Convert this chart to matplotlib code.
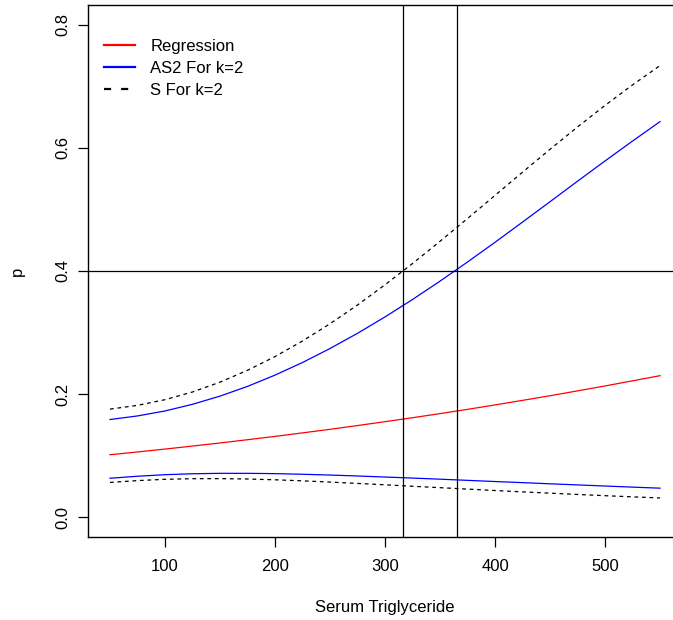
import matplotlib
matplotlib.use("Agg")
import matplotlib.pyplot as plt
import matplotlib.lines as mlines

# values
trig = [50, 75, 100, 125, 150, 175, 200, 225, 250, 275, 300,
        325, 350, 375, 400, 425, 450, 475, 500, 525, 550]
p_reg = [0.1016, 0.1061, 0.1108, 0.1157, 0.1207, 0.1260, 0.1314, 0.1371, 0.1429, 0.1490, 0.1553,
         0.1617, 0.1684, 0.1753, 0.1825, 0.1899, 0.1974, 0.2053, 0.2133, 0.2216, 0.2300]
as2_up = [0.1588, 0.1646, 0.1727, 0.1835, 0.1968, 0.2126, 0.2309, 0.2514, 0.2741, 0.2988, 0.3254,
          0.3537, 0.3835, 0.4146, 0.4466, 0.4794, 0.5125, 0.5458, 0.5787, 0.6110, 0.6426]
as2_lo = [0.0634, 0.0667, 0.0692, 0.0707, 0.0714, 0.0714, 0.0709, 0.0699, 0.0686, 0.0671, 0.0654,
          0.0637, 0.0619, 0.0600, 0.0581, 0.0563, 0.0544, 0.0526, 0.0508, 0.0490, 0.0473]
s_up = [0.1757, 0.1818, 0.1910, 0.2035, 0.2195, 0.2387, 0.2610, 0.2863, 0.3143, 0.3448, 0.3776,
        0.4121, 0.4482, 0.4852, 0.5228, 0.5604, 0.5976, 0.6339, 0.6689, 0.7022, 0.7336]
s_lo = [0.0566, 0.0596, 0.0617, 0.0627, 0.0628, 0.0622, 0.0609, 0.0592, 0.0572, 0.0550, 0.0528,
        0.0504, 0.0481, 0.0458, 0.0435, 0.0413, 0.0392, 0.0371, 0.0351, 0.0332, 0.0314]
p_cut = 0.4
x_cuts = [316, 365]
xticks = [100, 200, 300, 400, 500]
yticks = [0.0, 0.2, 0.4, 0.6, 0.8]

plt.rcParams['font.family'] = ['Liberation Sans', 'DejaVu Sans']

fig = plt.figure(figsize=(6.73, 6.2), dpi=100)
# right edge of the box falls just outside the picture, like the reference
ax = fig.add_axes([88/673, 83/620, 594/673, 532/620])

dash = (0, (3, 3))
ax.plot(trig, p_reg, color='#FF0000', lw=0.9)
ax.plot(trig, as2_up, color='#0000FF', lw=0.9)
ax.plot(trig, as2_lo, color='#0000FF', lw=0.9)
ax.plot(trig, s_up, color='black', lw=0.9, linestyle=dash)
ax.plot(trig, s_lo, color='black', lw=0.9, linestyle=dash)

ax.axhline(p_cut, color='black', lw=0.9)
for xc in x_cuts:
    ax.axvline(xc, color='black', lw=0.9)

ax.set_xlim(30, 570)
ax.set_ylim(-0.032, 0.832)
ax.set_xticks(xticks)
ax.set_xticklabels([str(t) for t in xticks])
ax.set_yticks(yticks)
ax.set_yticklabels(['%.1f' % t for t in yticks], rotation=90, va='center')
ax.tick_params(direction='out', length=7.5, width=0.9, labelsize=12, pad=5, colors='black')
ax.tick_params(axis='x', pad=8)
for s in ax.spines.values():
    s.set_linewidth(1.0)
    s.set_color('black')
ax.spines['right'].set_visible(False)

ax.set_xlabel('Serum Triglyceride', fontsize=12, labelpad=19)
ax.set_ylabel('p', fontsize=12, labelpad=22)

h1 = mlines.Line2D([], [], color='#FF0000', lw=1.6, label='Regression')
h2 = mlines.Line2D([], [], color='#0000FF', lw=1.6, label='AS2 For k=2')
h3 = mlines.Line2D([], [], color='black', lw=1.6, linestyle=(0, (3.2, 4.5)), label='S For k=2')
ax.legend(handles=[h1, h2, h3], loc='upper left', frameon=False, fontsize=12,
          handlelength=1.9, handletextpad=0.9, labelspacing=0.42, borderaxespad=0,
          bbox_to_anchor=(9/594, 1 - 27/532))

fig.savefig('out.png', dpi=100)
